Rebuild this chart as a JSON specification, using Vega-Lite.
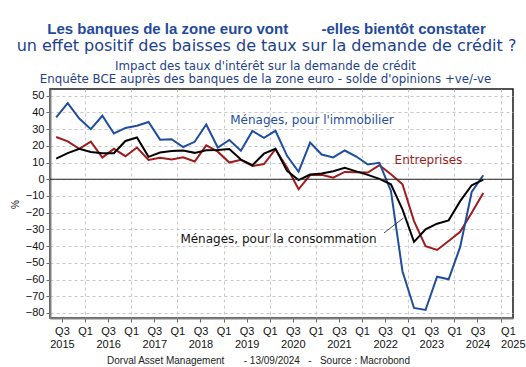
{
  "$schema": "https://vega.github.io/schema/vega-lite/v6.json",
  "width": 463,
  "height": 229,
  "autosize": {"type": "none"},
  "padding": {"left": 50, "top": 89, "right": 13, "bottom": 49},
  "background": "white",
  "config": {
    "view": {"stroke": "#1a1a1a", "strokeWidth": 1.5},
    "axis": {
      "labelFont": "Liberation Sans",
      "labelFontSize": 11,
      "labelColor": "#111",
      "tickColor": "#666",
      "domainColor": "#808080",
      "domainWidth": 2,
      "gridColor": "#c8c8c8",
      "gridDash": [3, 3],
      "gridWidth": 1,
      "labelOverlap": false
    }
  },
  "title": {
    "text": "Les banques de la zone euro vont\u00a0\u00a0\u00a0\u00a0\u00a0\u00a0\u00a0\u00a0-elles bientôt constater\u00a0\u00a0\u00a0\u00a0\u00a0\u00a0",
    "subtitle": "un effet positif des baisses de taux sur la demande de crédit ?",
    "anchor": "middle",
    "frame": "group",
    "dx": -15,
    "font": "Liberation Sans",
    "fontSize": 15,
    "fontWeight": "bold",
    "color": "#1f4b99",
    "subtitleFont": "DejaVu Sans",
    "subtitleFontSize": 16,
    "subtitleColor": "#1d3f8c",
    "subtitlePadding": 1,
    "offset": 6
  },
  "data": {
    "values": [
      {"t": 2015.5, "immo": 37, "ent": 25.3, "conso": 12.4},
      {"t": 2015.75, "immo": 45.5, "ent": 22.7, "conso": 15.6},
      {"t": 2016.0, "immo": 36.3, "ent": 18.2, "conso": 18.2},
      {"t": 2016.25, "immo": 30, "ent": 22.5, "conso": 16.3},
      {"t": 2016.5, "immo": 38, "ent": 13, "conso": 15.6},
      {"t": 2016.75, "immo": 27.4, "ent": 18.2, "conso": 15.6},
      {"t": 2017.0, "immo": 30.7, "ent": 13.8, "conso": 22.9},
      {"t": 2017.25, "immo": 32, "ent": 19, "conso": 25},
      {"t": 2017.5, "immo": 34.3, "ent": 11.6, "conso": 13.4},
      {"t": 2017.75, "immo": 23.7, "ent": 12.8, "conso": 16},
      {"t": 2018.0, "immo": 24, "ent": 11.8, "conso": 16.9},
      {"t": 2018.25, "immo": 19.3, "ent": 13.1, "conso": 17.2},
      {"t": 2018.5, "immo": 22.4, "ent": 10.6, "conso": 15.8},
      {"t": 2018.75, "immo": 32.8, "ent": 20.3, "conso": 17.4},
      {"t": 2019.0, "immo": 19, "ent": 16.5, "conso": 17.5},
      {"t": 2019.25, "immo": 23.5, "ent": 10, "conso": 18.1},
      {"t": 2019.5, "immo": 17.1, "ent": 11.6, "conso": 11.8},
      {"t": 2019.75, "immo": 28.9, "ent": 7.9, "conso": 8.4},
      {"t": 2020.0, "immo": 24.8, "ent": 9.1, "conso": 15.3},
      {"t": 2020.25, "immo": 29, "ent": 18, "conso": 18.2},
      {"t": 2020.5, "immo": 14, "ent": 7, "conso": 5},
      {"t": 2020.75, "immo": 4.5, "ent": -6, "conso": -0.5},
      {"t": 2021.0, "immo": 21.9, "ent": 2.5, "conso": 2.8},
      {"t": 2021.25, "immo": 14.8, "ent": 2.7, "conso": 3.4},
      {"t": 2021.5, "immo": 13.1, "ent": 0.9, "conso": 4.8},
      {"t": 2021.75, "immo": 17.2, "ent": 4.4, "conso": 6.8},
      {"t": 2022.0, "immo": 13.6, "ent": 4.2, "conso": 4.7},
      {"t": 2022.25, "immo": 8.8, "ent": 4, "conso": 2.6},
      {"t": 2022.5, "immo": 9.8, "ent": 8.4, "conso": 0.2},
      {"t": 2022.75, "immo": -7, "ent": 3, "conso": -3},
      {"t": 2023.0, "immo": -55, "ent": -3, "conso": -18},
      {"t": 2023.25, "immo": -77, "ent": -25, "conso": -37.5},
      {"t": 2023.5, "immo": -78.2, "ent": -40, "conso": -30},
      {"t": 2023.75, "immo": -58.3, "ent": -42.3, "conso": -26.6},
      {"t": 2024.0, "immo": -59.8, "ent": -36.9, "conso": -24.6},
      {"t": 2024.25, "immo": -40.5, "ent": -31.4, "conso": -13.1},
      {"t": 2024.5, "immo": -7.6, "ent": -20, "conso": -3.6},
      {"t": 2024.75, "immo": 2.4, "ent": -8.2, "conso": -0.2}
    ]
  },
  "resolve": {"axis": {"x": "independent", "y": "independent"}},
  "layer": [
    {
      "mark": {"type": "line", "color": "#a01b1b", "strokeWidth": 2},
      "encoding": {
        "x": {
          "field": "t",
          "type": "quantitative",
          "scale": {"domain": [2015.366, 2025.394], "nice": false, "zero": false},
          "axis": {
            "orient": "bottom",
            "values": [2015.625, 2016.125, 2016.625, 2017.125, 2017.625, 2018.125, 2018.625, 2019.125, 2019.625, 2020.125, 2020.625, 2021.125, 2021.625, 2022.125, 2022.625, 2023.125, 2023.625, 2024.125, 2024.625, 2025.125],
            "grid": true,
            "gridOpacity": {"condition": {"test": "(datum.value % 1) < 0.5", "value": 1}, "value": 0},
            "tickSize": 4,
            "labelPadding": 3,
            "labelLineHeight": 13,
            "labelOverlap": false,
            "labelFlush": false,
            "labelBound": false,
            "labelAlign": {"condition": {"test": "datum.value > 2025", "value": "left"}, "value": "center"},
            "labelExpr": "(datum.value % 1) < 0.5 ? (datum.value > 2025 ? ['Q1', '\u00a0\u00a02025'] : 'Q1') : ['Q3', '' + floor(datum.value)]",
            "title": "Dorval Asset Management\u00a0\u00a0\u00a0\u00a0\u00a0\u00a0\u00a0- 13/09/2024\u00a0\u00a0\u00a0-\u00a0\u00a0\u00a0Source : Macrobond",
            "titleFont": "Liberation Sans",
            "titleFontSize": 10,
            "titleFontWeight": "normal",
            "titleColor": "#222",
            "titleX": 208,
            "titleY": 42,
            "titleBaseline": "middle"
          }
        },
        "y": {
          "field": "ent",
          "type": "quantitative",
          "scale": {"domain": [-83, 54], "nice": false, "zero": false},
          "axis": {
            "orient": "left",
            "values": [-80, -70, -60, -50, -40, -30, -20, -10, 0, 10, 20, 30, 40, 50],
            "grid": true,
            "tickSize": 4,
            "labelPadding": 2,
            "labelOverlap": false,
            "title": "%",
            "titleFont": "Liberation Sans",
            "titleFontSize": 10,
            "titleFontWeight": "normal",
            "titleColor": "#111",
            "titleX": -30,
            "titleY": 115
          }
        }
      }
    },
    {
      "mark": {"type": "line", "color": "#1f4e9f", "strokeWidth": 2},
      "encoding": {
        "x": {
          "field": "t",
          "type": "quantitative",
          "axis": {
            "orient": "top",
            "labels": false,
            "ticks": false,
            "domain": false,
            "grid": false,
            "title": ["Impact des taux d'intérêt sur la demande de crédit", "Enquête BCE auprès des banques de la zone euro - solde d'opinions +ve/-ve"],
            "titleFont": "DejaVu Sans",
            "titleFontSize": 11.8,
            "titleFontWeight": "normal",
            "titleColor": "#1f3f8a",
            "titleLineHeight": 13,
            "titleX": 215,
            "titlePadding": 5
          }
        },
        "y": {"field": "immo", "type": "quantitative", "axis": null}
      }
    },
    {
      "mark": {"type": "line", "color": "#000000", "strokeWidth": 2},
      "encoding": {
        "x": {"field": "t", "type": "quantitative", "axis": null},
        "y": {"field": "conso", "type": "quantitative", "axis": null}
      }
    },
    {
      "data": {"values": [{}]},
      "mark": {"type": "rule", "color": "#222", "strokeWidth": 1.2},
      "encoding": {"y": {"datum": 0, "type": "quantitative", "axis": null}}
    },
    {
      "data": {"values": [{"label": "Ménages, pour l'immobilier", "x": 2019.27, "y": 35.6}]},
      "mark": {"type": "text", "align": "left", "baseline": "middle", "font": "DejaVu Sans", "fontSize": 12, "color": "#1f4fa0"},
      "encoding": {
        "x": {"field": "x", "type": "quantitative", "axis": null},
        "y": {"field": "y", "type": "quantitative", "axis": null},
        "text": {"field": "label"}
      }
    },
    {
      "data": {"values": [{"label": "Entreprises", "x": 2022.83, "y": 11.5}]},
      "mark": {"type": "text", "align": "left", "baseline": "middle", "font": "DejaVu Sans", "fontSize": 12, "color": "#a01b1b"},
      "encoding": {
        "x": {"field": "x", "type": "quantitative", "axis": null},
        "y": {"field": "y", "type": "quantitative", "axis": null},
        "text": {"field": "label"}
      }
    },
    {
      "data": {"values": [{"label": "Ménages, pour la consommation", "x": 2018.19, "y": -35.5}]},
      "mark": {"type": "text", "align": "left", "baseline": "middle", "font": "DejaVu Sans", "fontSize": 12, "color": "#111"},
      "encoding": {
        "x": {"field": "x", "type": "quantitative", "axis": null},
        "y": {"field": "y", "type": "quantitative", "axis": null},
        "text": {"field": "label"}
      }
    },
    {
      "data": {"values": [{"x": 2022.6, "y": -32.1, "x2": 2023.02, "y2": -23.2}]},
      "mark": {"type": "rule", "color": "#222", "strokeWidth": 0.8},
      "encoding": {
        "x": {"field": "x", "type": "quantitative", "axis": null},
        "y": {"field": "y", "type": "quantitative", "axis": null},
        "x2": {"field": "x2"},
        "y2": {"field": "y2"}
      }
    }
  ]
}
